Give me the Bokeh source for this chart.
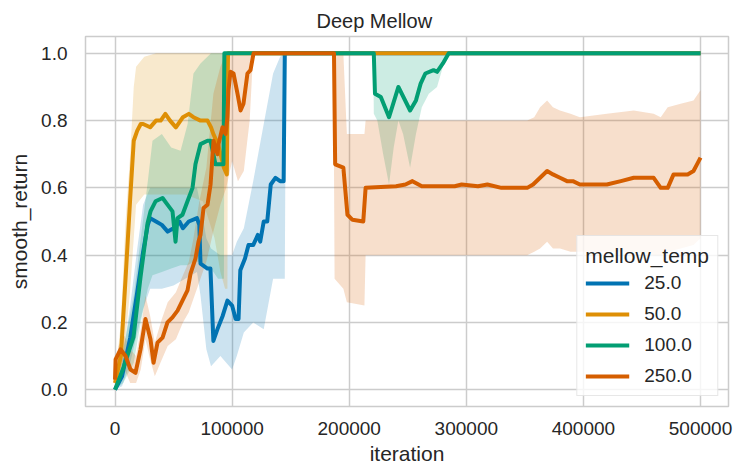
from bokeh.plotting import figure
from bokeh.models import FixedTicker, PrintfTickFormatter, Range1d, Legend, LegendItem
from bokeh.embed import file_html
from bokeh.resources import INLINE

title = "Deep Mellow"
x_label = "iteration"
y_label = "smooth_return"
legend_title = "mellow_temp"
labels = ["25.0", "50.0", "100.0", "250.0"]
colors = ["#0173b2", "#de8f05", "#029e73", "#d55e00"]
x_ticks = [0, 100000, 200000, 300000, 400000, 500000]
y_ticks = [0.0, 0.2, 0.4, 0.6, 0.8, 1.0]

# ---- mellow_temp 25.0 ----
t25_x = [0, 6000, 13000, 19000, 24000, 28000, 30000, 35000, 40000, 45000, 50000, 55000,
         58000, 63000, 70000, 72000, 73000, 79000, 81500, 84000, 87500, 92000, 96000,
         100000, 103000, 105500, 107000, 111000, 114000, 118000, 122000, 124000, 127000,
         130000, 133000, 137000, 141000, 144000, 145000, 500000]
t25_y = [0.0, 0.04, 0.155, 0.29, 0.41, 0.49, 0.51, 0.50, 0.49, 0.47, 0.48, 0.50,
         0.48, 0.50, 0.51, 0.49, 0.375, 0.36, 0.36, 0.145, 0.18, 0.22, 0.265,
         0.25, 0.21, 0.21, 0.355, 0.39, 0.43, 0.43, 0.46, 0.44, 0.50,
         0.50, 0.61, 0.63, 0.62, 0.62, 1.0, 1.0]
t25_bx = [0, 6000, 13000, 19000, 24000, 30000, 40000, 50000, 60000, 70000, 73000, 78000,
          82000, 90000, 100000, 104000, 110000, 118000, 127000, 135000, 141000, 145000,
          146000, 500000]
t25_lo = [0.0, 0.01, 0.08, 0.17, 0.24, 0.30, 0.30, 0.31, 0.33, 0.35, 0.28, 0.12,
          0.07, 0.10, 0.06, 0.10, 0.17, 0.20, 0.18, 0.33, 0.33, 0.33, 1.0, 1.0]
t25_hi = [0.0, 0.08, 0.25, 0.42, 0.55, 0.60, 0.60, 0.60, 0.60, 0.60, 0.55, 0.45,
          0.42, 0.40, 0.40, 0.44, 0.48, 0.62, 0.79, 0.94, 0.99, 1.0, 1.0, 1.0]

# ---- mellow_temp 50.0 ----
t50_x = [0, 5000, 9000, 13000, 16000, 19000, 22000, 24000, 30000, 35000, 39000, 43000,
         47000, 52000, 58000, 63000, 67000, 73000, 79000, 82000, 84000, 88000, 93000,
         95500, 96500, 500000]
t50_y = [0.02, 0.10, 0.33, 0.57, 0.74, 0.77, 0.79, 0.79, 0.78, 0.80, 0.80, 0.82,
         0.80, 0.78, 0.81, 0.82, 0.81, 0.80, 0.80, 0.78, 0.76, 0.73, 0.66,
         0.64, 1.0, 1.0]
t50_bx = [0, 5000, 9000, 13000, 16000, 18000, 25000, 35000, 60000, 75000, 85000, 90000,
          94000, 96000, 96500, 500000]
t50_lo = [0.0, 0.03, 0.15, 0.30, 0.45, 0.55, 0.58, 0.58, 0.58, 0.56, 0.45, 0.35,
          0.30, 0.30, 1.0, 1.0]
t50_hi = [0.03, 0.20, 0.50, 0.70, 0.90, 0.96, 0.99, 1.0, 1.0, 1.0, 1.0, 1.0,
          1.0, 1.0, 1.0, 1.0]

# ---- mellow_temp 100.0 ----
t100_x = [0, 7300, 15800, 21800, 27800, 30300, 34600, 40600, 44800, 49100, 51700, 53400,
          57600, 61900, 66200, 68700, 73000, 79000, 81600, 85800, 92600, 93400, 221000,
          222000, 227000, 234000, 242000, 252000, 257000, 261000, 265000, 272000, 275000,
          280000, 285000, 500000]
t100_y = [0.0, 0.066, 0.156, 0.335, 0.495, 0.53, 0.56, 0.57, 0.55, 0.53, 0.44, 0.51,
          0.52, 0.56, 0.60, 0.67, 0.73, 0.74, 0.74, 0.67, 0.67, 1.0, 1.0,
          0.88, 0.87, 0.81, 0.90, 0.83, 0.86, 0.91, 0.94, 0.95, 0.945,
          0.97, 1.0, 1.0]
t100_bx = [0, 7000, 16000, 22000, 28000, 32000, 40000, 48000, 56000, 62000, 67000, 73000,
           82000, 88000, 93000, 93500, 220500, 221000, 224000, 229000, 234000, 238000,
           242000, 246000, 252000, 257000, 262000, 268000, 275000, 280000, 285000, 500000]
t100_lo = [0.0, 0.02, 0.08, 0.20, 0.30, 0.34, 0.35, 0.36, 0.37, 0.37, 0.38, 0.38,
           0.36, 0.33, 0.33, 1.0, 1.0, 0.82, 0.80, 0.70, 0.61, 0.72,
           0.80, 0.76, 0.66, 0.76, 0.84, 0.88, 0.90, 0.96, 1.0, 1.0]
t100_hi = [0.0, 0.12, 0.28, 0.45, 0.62, 0.74, 0.76, 0.72, 0.71, 0.79, 0.94, 0.97,
           1.0, 1.0, 1.0, 1.0, 1.0, 1.0, 1.0, 1.0, 1.0, 1.0,
           1.0, 1.0, 1.0, 1.0, 1.0, 1.0, 1.0, 1.0, 1.0, 1.0]

# ---- mellow_temp 250.0 ----
t250_x = [0, 500, 4700, 9000, 13200, 17500, 21800, 26000, 30300, 32900, 36300, 40600,
          44800, 49100, 53400, 57600, 61900, 64500, 68700, 71300, 73000, 75600, 79000,
          81600, 84100, 87500, 88400, 91800, 94400, 96000, 96900, 98600, 101200, 104600,
          107200, 109700, 113100, 115700, 118300, 187000, 188000, 195000, 198500, 202800,
          212000, 214000, 240000, 248000, 254000, 262000, 290000, 296000, 310000, 318000,
          330000, 352000, 357000, 363000, 369000, 374000, 380000, 386000, 391000, 397000,
          406000, 420000, 432000, 443000, 455000, 460000, 466000, 472000, 477000, 483000,
          489000, 494000, 497000, 500000]
t250_y = [0.03, 0.09, 0.12, 0.10, 0.06, 0.05, 0.12, 0.21, 0.15, 0.08, 0.14, 0.155,
          0.20, 0.215, 0.235, 0.265, 0.295, 0.345, 0.39, 0.44, 0.46, 0.54, 0.55,
          0.61, 0.74, 0.70, 0.73, 0.78, 0.76, 0.81, 0.89, 0.945, 0.94, 0.88,
          0.83, 0.85, 0.94, 0.95, 1.0, 1.0, 0.67, 0.66, 0.52, 0.505,
          0.50, 0.60, 0.605, 0.61, 0.62, 0.605, 0.605, 0.61, 0.605, 0.61,
          0.60, 0.60, 0.61, 0.63, 0.65, 0.64, 0.63, 0.62, 0.62, 0.61,
          0.61, 0.61, 0.62, 0.63, 0.63, 0.63, 0.60, 0.60, 0.64, 0.64,
          0.64, 0.65, 0.67, 0.69]
t250_bx = [0, 3000, 8000, 13000, 18000, 22000, 26000, 30000, 34000, 40000, 45000, 52000,
           58000, 63000, 67000, 72000, 78000, 84000, 90000, 95000, 100000, 105000, 110000,
           115000, 118000, 186500, 187500, 195000, 198000, 213000, 214000, 240000, 280000,
           320000, 352000, 358000, 363000, 369000, 374000, 380000, 389000, 397000, 420000,
           443000, 460000, 466000, 472000, 483000, 494000, 500000]
t250_lo = [0.0, 0.05, 0.06, 0.02, 0.02, 0.06, 0.15, 0.09, 0.04, 0.09, 0.13, 0.15,
           0.20, 0.23, 0.27, 0.32, 0.38, 0.47, 0.55, 0.60, 0.68, 0.62, 0.65,
           0.80, 1.0, 1.0, 0.33, 0.30, 0.26, 0.25, 0.40, 0.40, 0.40,
           0.40, 0.40, 0.41, 0.42, 0.44, 0.42, 0.42, 0.41, 0.41, 0.41,
           0.41, 0.40, 0.40, 0.41, 0.42, 0.43, 0.45]
t250_hi = [0.06, 0.13, 0.16, 0.12, 0.10, 0.18, 0.28, 0.22, 0.14, 0.21, 0.26, 0.29,
           0.34, 0.38, 0.45, 0.56, 0.66, 0.88, 0.96, 1.0, 1.0, 1.0, 1.0,
           1.0, 1.0, 1.0, 1.0, 1.0, 0.76, 0.76, 0.80, 0.80, 0.80,
           0.80, 0.80, 0.81, 0.84, 0.86, 0.84, 0.83, 0.82, 0.81, 0.82,
           0.83, 0.82, 0.81, 0.84, 0.85, 0.86, 0.89]

series = [
    (t25_x, t25_y, t25_bx, t25_lo, t25_hi),
    (t50_x, t50_y, t50_bx, t50_lo, t50_hi),
    (t100_x, t100_y, t100_bx, t100_lo, t100_hi),
    (t250_x, t250_y, t250_bx, t250_lo, t250_hi),
]

FONT = "Liberation Sans"
TXT = "#262626"
GRID = "#cccccc"

p = figure(width=734, height=471, output_backend="svg", toolbar_location=None,
           x_range=Range1d(-25200, 523900), y_range=Range1d(-0.05, 1.05),
           min_border_left=85, min_border_right=6, min_border_top=36, min_border_bottom=65,
           title=title)

p.title.align = "left"
p.title.offset = 231
p.title.text_font = FONT
p.title.text_font_size = "20px"
p.title.text_font_style = "normal"
p.title.text_color = TXT
p.title.standoff = 9

p.outline_line_color = GRID
p.outline_line_width = 1.5
p.background_fill_color = "white"
p.border_fill_color = "white"

for ax in (p.xaxis[0], p.yaxis[0]):
    ax.axis_line_color = None
    ax.major_tick_line_color = None
    ax.minor_tick_line_color = None
    ax.major_tick_out = 0
    ax.major_tick_in = 0
    ax.minor_tick_out = 0
    ax.major_label_text_font = FONT
    ax.major_label_text_font_size = "19px"
    ax.major_label_text_color = TXT
    ax.axis_label_text_font = FONT
    ax.axis_label_text_font_size = "21px"
    ax.axis_label_text_font_style = "normal"
    ax.axis_label_text_color = TXT

p.xaxis.ticker = FixedTicker(ticks=x_ticks)
p.yaxis.ticker = FixedTicker(ticks=y_ticks)
p.xaxis.formatter = PrintfTickFormatter(format="%d")
p.yaxis.formatter = PrintfTickFormatter(format="%.1f")
p.xaxis.axis_label = x_label
p.yaxis.axis_label = y_label
p.xaxis.major_label_standoff = 15
p.xaxis.axis_label_standoff = 4
p.yaxis.major_label_standoff = 18
p.yaxis.axis_label_standoff = 7

p.xgrid.grid_line_color = GRID
p.ygrid.grid_line_color = GRID
p.xgrid.grid_line_width = 1.5
p.ygrid.grid_line_width = 1.5

for (x, y, bx, lo, hi), c in zip(series, colors):
    p.varea(x=bx, y1=lo, y2=hi, fill_color=c, fill_alpha=0.2)

items = []
for (x, y, bx, lo, hi), c, lab in zip(series, colors, labels):
    r = p.line(x=x, y=y, line_color=c, line_width=4, line_join="round")
    items.append(LegendItem(label=lab, renderers=[r]))

legend = Legend(items=items, location="bottom_right", title=legend_title)
legend.title_text_font = FONT
legend.title_text_font_size = "21px"
legend.title_text_font_style = "normal"
legend.title_text_color = TXT
legend.title_standoff = 4
legend.label_text_font = FONT
legend.label_text_font_size = "19px"
legend.label_text_color = TXT
legend.glyph_width = 44
legend.glyph_height = 20
legend.label_height = 20
legend.spacing = 9
legend.padding = 8
legend.margin = 10
legend.label_standoff = 15
legend.border_line_color = "#d0d0d0"
legend.border_line_width = 1.2
legend.background_fill_alpha = 0.8
p.add_layout(legend)

open("out.html", "w").write(file_html(p, INLINE))
